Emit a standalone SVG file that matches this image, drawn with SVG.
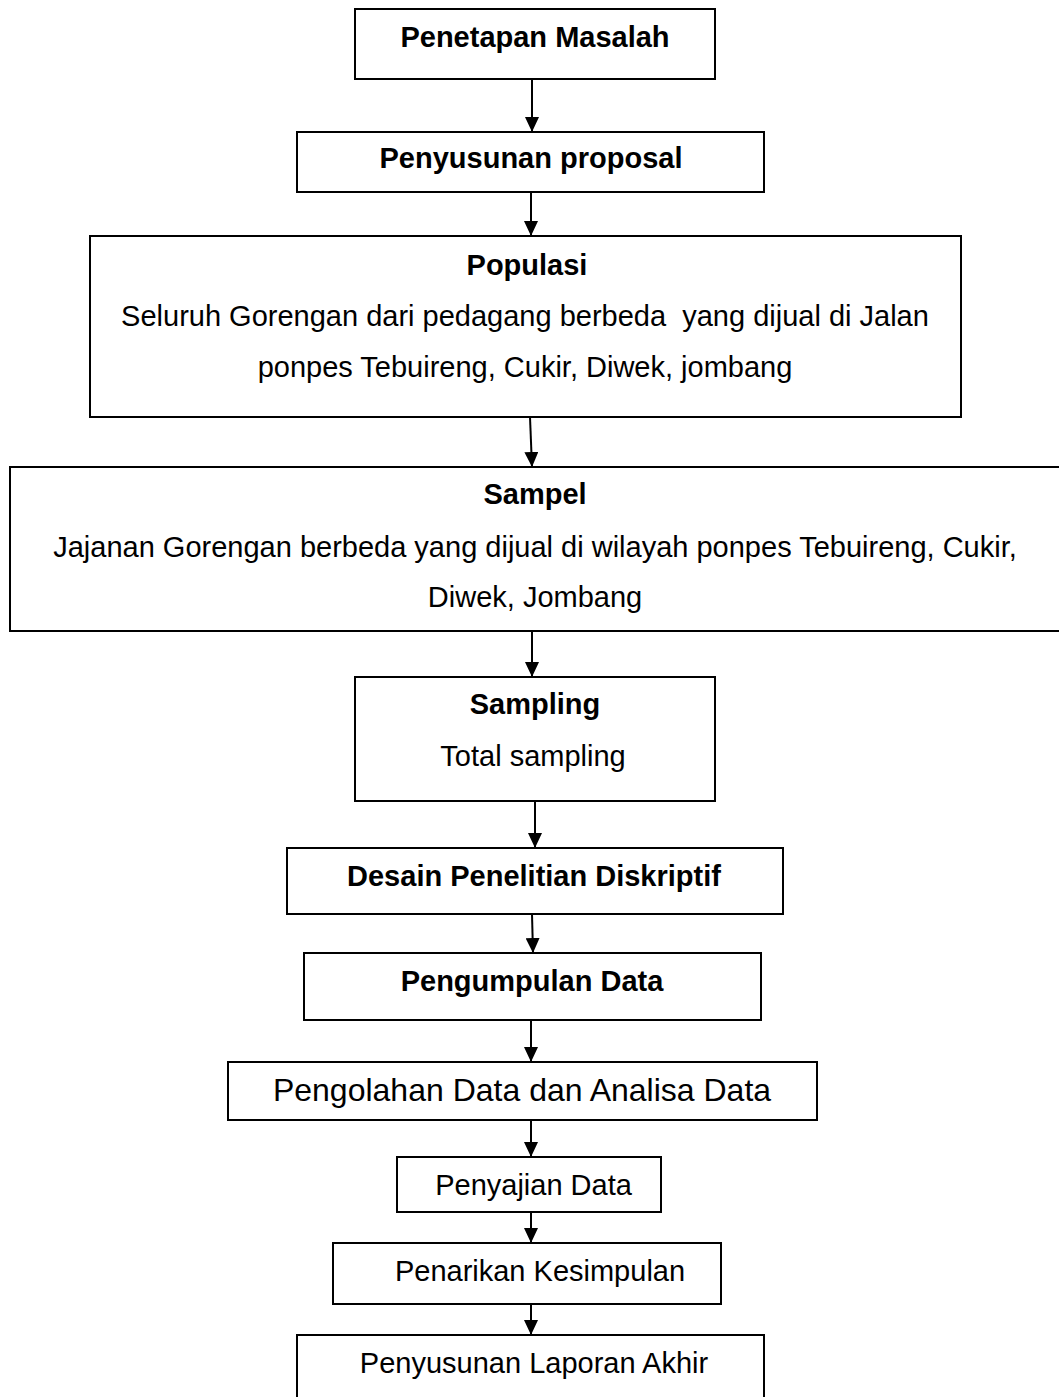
<svg xmlns="http://www.w3.org/2000/svg" width="1059" height="1397" viewBox="0 0 1059 1397">
<defs>
<style>
.box{fill:#fff;stroke:#000;stroke-width:2}
.t{font-family:"Liberation Sans",Arial,sans-serif;font-size:29px;fill:#000;text-anchor:middle;white-space:pre}
.b{font-weight:bold}
.big{font-size:32px}
.conn line{stroke:#000;stroke-width:2;marker-end:url(#arr)}
</style>
<marker id="arr" markerUnits="userSpaceOnUse" viewBox="0 0 15 14" refX="15" refY="7" markerWidth="15" markerHeight="14" orient="auto">
<path d="M0,0 L15,7 L0,14 z" fill="#000"/>
</marker>
</defs>
<rect width="1059" height="1397" fill="#fff"/>
<g id="n1"><rect class="box" x="355" y="9" width="360" height="70"/><text class="t b" x="535" y="47">Penetapan Masalah</text></g>
<g id="n2"><rect class="box" x="297" y="132" width="467" height="60"/><text class="t b" x="531" y="168">Penyusunan proposal</text></g>
<g id="n3"><rect class="box" x="90" y="236" width="871" height="181"/><text class="t b" x="527" y="275">Populasi</text><text class="t" x="525" y="326" xml:space="preserve">Seluruh Gorengan dari pedagang berbeda  yang dijual di Jalan</text><text class="t" x="525" y="377">ponpes Tebuireng, Cukir, Diwek, jombang</text></g>
<g id="n4"><rect class="box" x="10" y="467" width="1060" height="164"/><text class="t b" x="535" y="504">Sampel</text><text class="t" x="535" y="557">Jajanan Gorengan berbeda yang dijual di wilayah ponpes Tebuireng, Cukir,</text><text class="t" x="535" y="607">Diwek, Jombang</text></g>
<g id="n5"><rect class="box" x="355" y="677" width="360" height="124"/><text class="t b" x="535" y="714">Sampling</text><text class="t" x="533" y="766">Total sampling</text></g>
<g id="n6"><rect class="box" x="287" y="848" width="496" height="66"/><text class="t b" x="534" y="886">Desain Penelitian Diskriptif</text></g>
<g id="n7"><rect class="box" x="304" y="953" width="457" height="67"/><text class="t b" x="532" y="991">Pengumpulan Data</text></g>
<g id="n8"><rect class="box" x="228" y="1062" width="589" height="58"/><text class="t big" x="522" y="1101">Pengolahan Data dan Analisa Data</text></g>
<g id="n9"><rect class="box" x="397" y="1157" width="264" height="55"/><text class="t" x="533.5" y="1195">Penyajian Data</text></g>
<g id="n10"><rect class="box" x="333" y="1243" width="388" height="61"/><text class="t" x="540" y="1281">Penarikan Kesimpulan</text></g>
<g id="n11"><rect class="box" x="297" y="1335" width="467" height="80"/><text class="t" x="534" y="1373">Penyusunan Laporan Akhir</text></g>
<g id="connectors" class="conn">
<line x1="532" y1="79" x2="532" y2="132"/>
<line x1="531" y1="192" x2="531" y2="236"/>
<line x1="530" y1="417" x2="532" y2="467"/>
<line x1="532" y1="631" x2="532" y2="677"/>
<line x1="535" y1="801" x2="535" y2="848"/>
<line x1="532" y1="914" x2="533" y2="953"/>
<line x1="531" y1="1020" x2="531" y2="1062"/>
<line x1="531" y1="1120" x2="531" y2="1157"/>
<line x1="531" y1="1212" x2="531" y2="1243"/>
<line x1="531" y1="1304" x2="531" y2="1335"/>
</g>
</svg>
